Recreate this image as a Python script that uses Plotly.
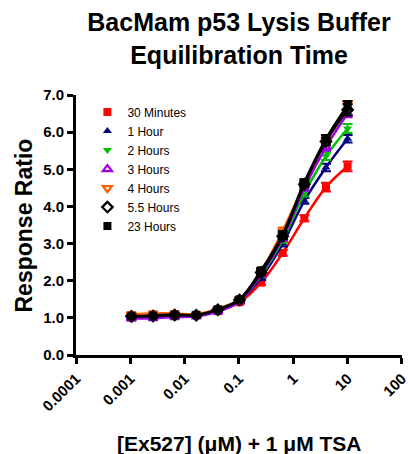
import plotly.graph_objects as go

conc = [0.001048576, 0.00262144, 0.0065536, 0.016384, 0.04096, 0.1024, 0.256, 0.64, 1.6, 4.0, 10.0]
tick_vals = [0.0001, 0.001, 0.01, 0.1, 1, 10, 100]
tick_text = ["0.0001", "0.001", "0.01", "0.1", "1", "10", "100"]
y_ticks = [0, 1, 2, 3, 4, 5, 6, 7]

names = ["30 Minutes", "1 Hour", "2 Hours", "3 Hours", "4 Hours", "5.5 Hours", "23 Hours"]
min30 = [1.02, 1.03, 1.05, 1.08, 1.18, 1.42, 1.95, 2.75, 3.68, 4.52, 5.08]
hr1 = [1.01, 1.02, 1.06, 1.07, 1.20, 1.46, 2.08, 3.00, 4.15, 5.05, 5.82]
hr2 = [1.00, 1.03, 1.05, 1.06, 1.20, 1.47, 2.15, 3.10, 4.35, 5.35, 6.10]
hr3 = [0.98, 0.99, 1.02, 1.04, 1.17, 1.44, 2.17, 3.15, 4.50, 5.60, 6.50]
hr4 = [1.10, 1.12, 1.12, 1.10, 1.25, 1.50, 2.25, 3.35, 4.60, 5.80, 6.72]
hr55 = [1.04, 1.05, 1.08, 1.07, 1.22, 1.48, 2.22, 3.20, 4.60, 5.75, 6.60]
hr23 = [1.05, 1.06, 1.09, 1.08, 1.23, 1.50, 2.28, 3.25, 4.65, 5.82, 6.72]

err30 = [0.03, 0.03, 0.03, 0.03, 0.04, 0.05, 0.06, 0.08, 0.08, 0.12, 0.13]
err1 = [0.03, 0.03, 0.03, 0.03, 0.04, 0.05, 0.06, 0.08, 0.08, 0.10, 0.10]
err2 = [0.03, 0.03, 0.03, 0.03, 0.04, 0.05, 0.06, 0.08, 0.08, 0.10, 0.12]
err3 = [0.03, 0.03, 0.03, 0.03, 0.04, 0.05, 0.06, 0.08, 0.08, 0.10, 0.10]
err4 = [0.03, 0.03, 0.03, 0.03, 0.04, 0.05, 0.06, 0.08, 0.08, 0.10, 0.12]
err55 = [0.03, 0.03, 0.03, 0.03, 0.04, 0.05, 0.06, 0.08, 0.08, 0.10, 0.15]
err23 = [0.03, 0.03, 0.03, 0.03, 0.04, 0.05, 0.06, 0.08, 0.08, 0.10, 0.12]

series = [min30, hr1, hr2, hr3, hr4, hr55, hr23]
errors = [err30, err1, err2, err3, err4, err55, err23]
colors = ["#ff0000", "#000080", "#00c000", "#a000e0", "#ff6000", "#000000", "#000000"]
symbols = ["square", "triangle-up", "triangle-down", "triangle-up-open",
           "triangle-down-open", "diamond-open", "square"]

fig = go.Figure()
for name, ys, es, c, s in zip(names, series, errors, colors, symbols):
    fig.add_trace(go.Scatter(
        x=conc, y=ys, mode="lines", line=dict(color=c, width=2.5, shape="spline"),
        showlegend=False, hoverinfo="skip"))
    fig.add_trace(go.Scatter(
        x=conc, y=ys, mode="markers", name=name,
        marker=dict(symbol=s, color=c, size=8,
                    line=dict(color=c, width=2.2 if "open" in s else 0)),
        error_y=dict(type="data", array=es, color=c, thickness=2, width=5)))

fnt = "Liberation Sans, Arial, sans-serif"
fig.update_layout(
    width=408, height=454,
    margin=dict(l=76, r=6, t=95, b=99, autoexpand=False),
    paper_bgcolor="white", plot_bgcolor="white",
    font=dict(family=fnt, color="black"),
    title=dict(text="<b>BacMam p53 Lysis Buffer<br>Equilibration Time</b>",
               x=0.5, xref="paper", xanchor="center", y=0.931, yanchor="middle",
               font=dict(size=25, family=fnt, color="black")),
    legend=dict(x=0.035, y=0.99, xanchor="left", yanchor="top",
                bgcolor="rgba(0,0,0,0)", font=dict(size=12, family=fnt),
                tracegroupgap=0),
    xaxis=dict(type="log", range=[-4, 2.002], tickvals=tick_vals, ticktext=tick_text,
               tickangle=-45, showgrid=False, zeroline=False, automargin=False,
               ticklabeloverflow="allow",
               showline=True, linecolor="black", linewidth=3,
               ticks="outside", ticklen=6, tickwidth=3, tickcolor="black",
               tickfont=dict(size=15, family=fnt, weight="bold")),
    yaxis=dict(range=[0, 7], tickvals=y_ticks, tickformat=".1f",
               showgrid=False, zeroline=False, automargin=False,
               showline=True, linecolor="black", linewidth=3,
               ticks="outside", ticklen=6, tickwidth=3, tickcolor="black",
               tickfont=dict(size=15, family=fnt, weight="bold")),
    annotations=[
        dict(text="<b>Response Ratio</b>", xref="paper", yref="paper",
             x=-0.204, y=0.5, textangle=-90, showarrow=False,
             font=dict(size=23, family=fnt)),
        dict(text="<b>[Ex527] (μM) + 1 μM TSA</b>", xref="paper", yref="paper",
             x=0.5, y=-0.34, showarrow=False, yanchor="middle",
             font=dict(size=21, family=fnt)),
    ],
)

fig.write_html("out.html", config={"displayModeBar": False},
               post_script="document.body.style.margin='0px';document.body.style.overflow='hidden';")
